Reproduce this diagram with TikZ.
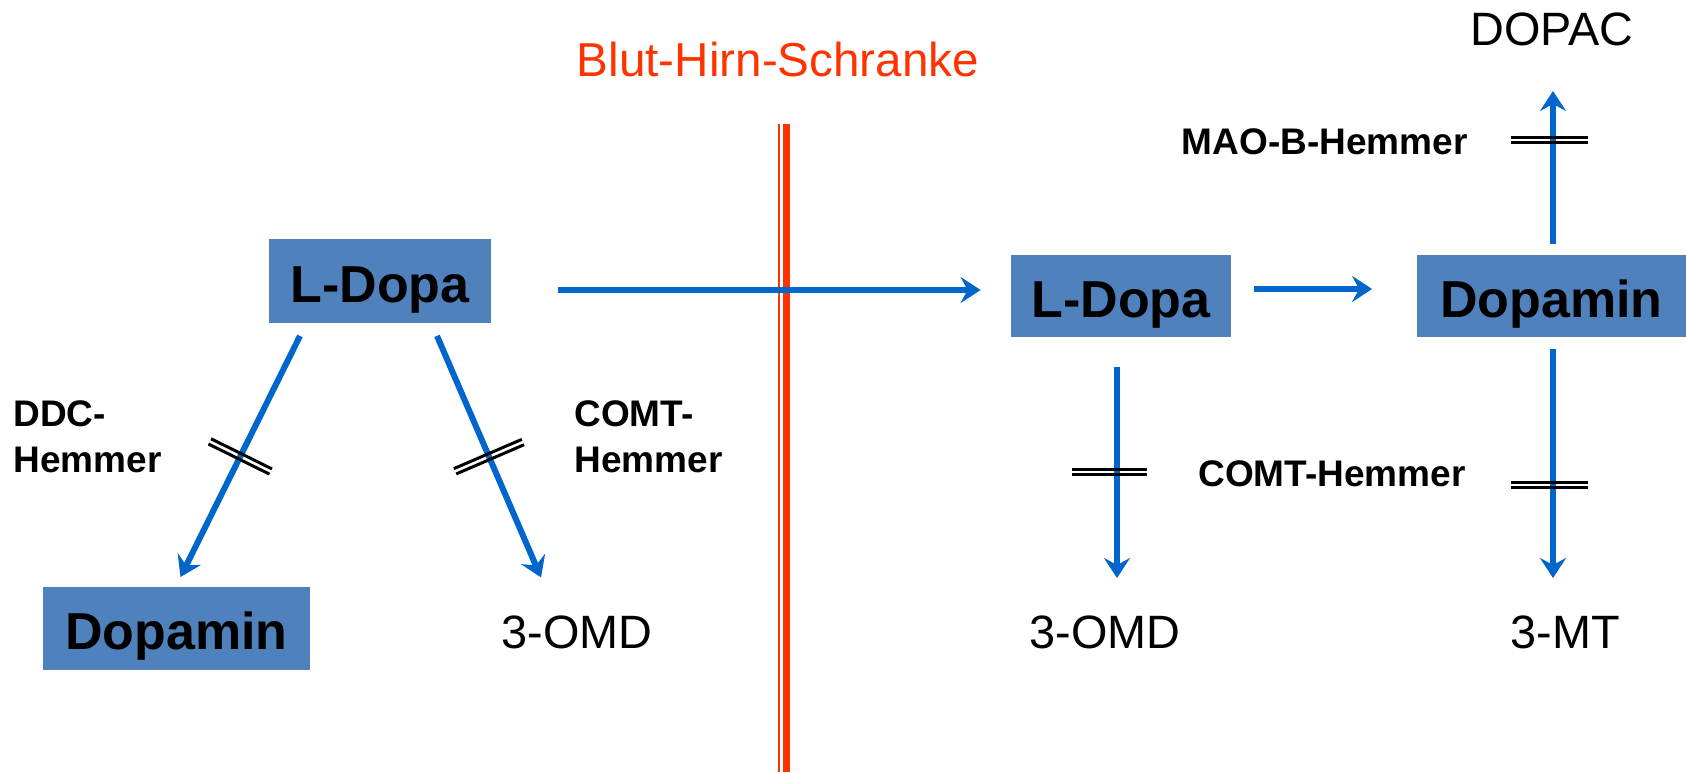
\documentclass[tikz,border=0pt]{standalone}
\usepackage{fontspec}
\setmainfont{Liberation Sans}
\usetikzlibrary{arrows.meta,calc}
\definecolor{boxblue}{HTML}{4F81BD}
\definecolor{flowblue}{HTML}{0066CC}
\definecolor{barrier}{HTML}{FF3300}

% double stroke marking a blocked step: centre, left/right reach, angle
\newcommand\inhib[4]{%
  \begin{scope}[shift={(#1)}, rotate=#4]
    \draw[stopline] (-#2,-2.9) -- (#3,-2.9);
    \draw[stopline] (-#2,2.9) -- (#3,2.9);
  \end{scope}}

\tikzset{
  substance/.style={fill=boxblue, draw=none, inner sep=0pt,
    font=\fontsize{26}{30}\selectfont\bfseries, text height=21pt, text depth=0pt},
  product/.style={inner sep=0pt, font=\fontsize{23.4}{28}\selectfont},
  inhibitor/.style={inner sep=0pt, align=left, font=\fontsize{18.5}{23}\selectfont\bfseries},
  flow/.style={draw=flowblue, line width=3pt,
    -{Stealth[length=10pt, width=13pt, inset=3.5pt]}},
  stopline/.style={draw=black, line width=1.5pt},
  wall/.style={draw=barrier}
}

\begin{document}
\begin{tikzpicture}[x=0.5pt, y=-0.5pt]
  \fill[white] (0,0) rectangle (1686,772);
  \useasboundingbox (0,0) rectangle (1686,772);

  % blood-brain barrier
  \node[product, text=barrier, font=\fontsize{23.8}{28}\selectfont] (bhs) at (778,59) {Blut-Hirn-Schranke};
  \coordinate (wtop) at (782.7,124);
  \coordinate (wbot) at (782.7,772);
  \draw[wall, line width=1.2pt] ([shift={(-3.5,0)}]wtop) -- ([shift={(-3.5,0)}]wbot);
  \draw[wall, line width=3.6pt] ([shift={(3.8,0)}]wtop) -- ([shift={(3.8,0)}]wbot);

  % periphery
  \node[substance, minimum width=111pt, minimum height=42pt] (ld1) at (380,281) {L-Dopa};
  \node[substance, minimum width=133.5pt, minimum height=41.5pt] (dp1) at (176.5,628.5) {Dopamin};
  \node[product] (omd1) at (577,632) {3-OMD};
  \node[inhibitor, anchor=west] (ddc) at (13,437) {DDC-\\Hemmer};
  \node[inhibitor, anchor=west] (comt1) at (574,437) {COMT-\\Hemmer};

  % brain
  \node[substance, minimum width=110pt, minimum height=41pt] (ld2) at (1121,296) {L-Dopa};
  \node[substance, minimum width=135pt, minimum height=41pt] (dp2) at (1551.5,296) {Dopamin};
  \node[product] (dopac) at (1552,29) {DOPAC};
  \node[product] (omd2) at (1105,632) {3-OMD};
  \node[product] (mt) at (1565,632) {3-MT};
  \node[inhibitor, anchor=east] (mao) at (1468,142) {MAO-B-Hemmer};
  \node[inhibitor, anchor=east] (comt2) at (1466,474) {COMT-Hemmer};

  % conversions
  \draw[flow] ([shift={(-80,12.5)}]ld1.south) -- ([shift={(4,-9.6)}]dp1.north) coordinate[pos=.5] (k1);
  \draw[flow] ([shift={(57,12.5)}]ld1.south) -- ([shift={(-36,-54.6)}]omd1.center) coordinate[pos=.5] (k2);
  \draw[flow] ([shift={(67,9)}]ld1.east) -- ([shift={(-30,-6)}]ld2.west);
  \draw[flow] ([shift={(23,-7)}]ld2.east) -- ([shift={(-44,-7)}]dp2.west);
  \draw[flow] ([shift={(1.5,-10.5)}]dp2.north) -- ([shift={(1,62)}]dopac.center) coordinate[pos=.68] (k5);
  \draw[flow] ([shift={(-4,29.5)}]ld2.south) -- ([shift={(12,-54)}]omd2.center) coordinate[pos=.498] (k3);
  \draw[flow] ([shift={(1.5,11.5)}]dp2.south) -- ([shift={(-12,-54)}]mt.center) coordinate[pos=.594] (k4);

  % inhibited steps
  \inhib{k1}{34}{34}{-26.3}
  \inhib{k2}{37}{37}{23.3}
  \inhib{k3}{45}{30}{0}
  \inhib{k4}{42}{35}{0}
  \inhib{k5}{42}{35}{0}
\end{tikzpicture}
\end{document}
